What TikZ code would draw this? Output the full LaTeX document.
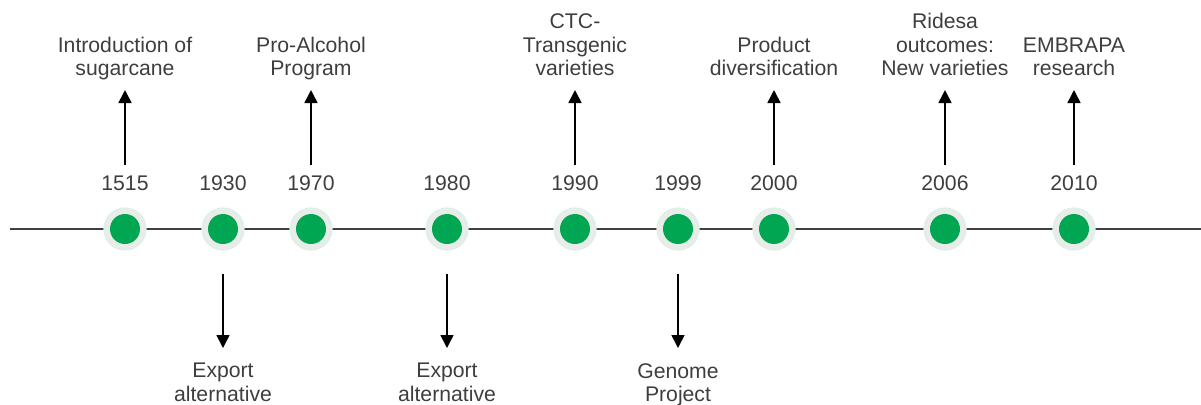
\documentclass[tikz,border=0pt]{standalone}
\usepackage{fontspec}
\setmainfont{Liberation Sans}
\usetikzlibrary{arrows.meta}
\definecolor{dotgreen}{RGB}{0,166,81}
\definecolor{halogray}{RGB}{234,236,234}
\definecolor{txtgray}{RGB}{62,62,62}
\tikzset{
  halo/.style={circle, fill=halogray, draw=dotgreen!15, line width=0.6pt, minimum size=21pt, inner sep=0pt},
  dot/.style={circle, fill=dotgreen, minimum size=15pt, inner sep=0pt},
  year/.style={text=txtgray, inner sep=0pt},
  event/.style={text=txtgray, align=center, inner sep=0pt},
  evarrow/.style={line width=0.8pt, -{Triangle[length=6.5pt,width=6.5pt]}},
}
\begin{document}
\begin{tikzpicture}[x=0.5pt, y=-0.5pt, font=\fontsize{10.6}{11.8}\selectfont]
  \useasboundingbox (0,0) rectangle (1201,404);
  \draw[line width=1pt, color=black!75] (10,229) -- (1201,229);
  \foreach \yr/\x in {1515/125, 1930/223, 1970/311, 1980/447, 1990/575, 1999/678, 2000/774, 2006/945, 2010/1074} {
    \node[halo] (h\yr) at (\x,229) {};
    \node[dot] at (h\yr) {};
    \node[year] (y\yr) at (\x,183) {\yr};
  }
  % events above the line
  \node[event, anchor=south, text depth=2pt] (t1515) at (125,80) {Introduction of\\sugarcane};
  \node[event, anchor=south, text depth=2pt] (t1970) at (311,80) {Pro-Alcohol\\Program};
  \node[event, anchor=south, text depth=2pt] (t1990) at (575,80) {CTC-\\Transgenic\\varieties};
  \node[event, anchor=south, text depth=2pt] (t2000) at (774,80) {Product\\diversification};
  \node[event, anchor=south, text depth=2pt] (t2006) at (945,80) {Ridesa\\outcomes:\\New varieties};
  \node[event, anchor=south, text depth=2pt] (t2010) at (1074,80) {EMBRAPA\\research};
  \foreach \yr in {1515, 1970, 1990, 2000, 2006, 2010}
    \draw[evarrow, shorten <=5pt, shorten >=5pt] (y\yr) -- (t\yr);
  % events below the line
  \node[event, anchor=north] (b1930) at (223,363) {Export\\alternative};
  \node[event, anchor=north] (b1980) at (447,363) {Export\\alternative};
  \node[event, anchor=north] (b1999) at (678,363) {Genome\\Project};
  \foreach \yr in {1930, 1980, 1999}
    \draw[evarrow, shorten <=11.5pt, shorten >=7.5pt] (h\yr) -- (b\yr);
\end{tikzpicture}
\end{document}
